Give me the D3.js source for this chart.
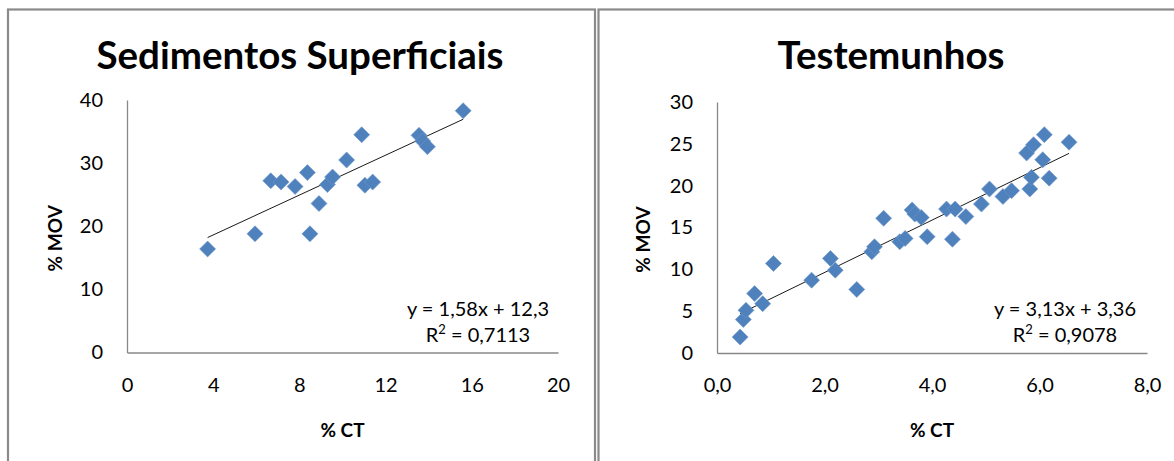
<!DOCTYPE html>
<html>
<head>
<meta charset="utf-8">
<script src="https://cdn.jsdelivr.net/npm/d3@7"></script>
<style>
  html, body { margin: 0; padding: 0; background: #fff; }
  svg { display: block; }
  text { font-family: Lato, "Open Sans", "DejaVu Sans", sans-serif; fill: #000; }
</style>
</head>
<body>
<svg id="chart" width="1174" height="461"></svg>
<script>
// Surface sediments: % CT vs % MOV
const sedCT  = [3.74, 5.94, 6.67, 7.15, 7.80, 8.37, 8.49, 8.91, 9.30, 9.54, 10.19, 10.89, 11.04, 11.40, 13.55, 13.72, 13.94, 15.60];
const sedMOV = [16.4, 18.8, 27.2, 27.0, 26.3, 28.5, 18.8, 23.6, 26.6, 27.8, 30.5, 34.5, 26.5, 27.0, 34.4, 33.5, 32.6, 38.3];

// Cores: % CT vs % MOV
const testCT  = [0.43, 0.49, 0.54, 0.70, 0.85, 1.05, 1.76, 2.11, 2.20, 2.60, 2.88, 2.93, 3.10, 3.40, 3.50, 3.63, 3.68, 3.80, 3.91, 4.27, 4.38, 4.43, 4.63, 4.92, 5.07, 5.32, 5.48, 5.82, 5.85, 6.18, 5.76, 5.89, 6.06, 6.09, 6.55];
const testMOV = [1.9, 4.0, 5.1, 7.1, 5.9, 10.7, 8.7, 11.3, 9.9, 7.6, 12.1, 12.7, 16.1, 13.3, 13.7, 17.1, 16.6, 16.2, 13.9, 17.2, 13.6, 17.2, 16.3, 17.8, 19.6, 18.7, 19.4, 19.6, 21.0, 20.9, 23.9, 24.9, 23.1, 26.1, 25.2];

// Linear trend coefficients (slope, intercept) and R²
const sedFit  = [1.58, 12.3];
const sedR2   = "0,7113";
const testFit = [3.13, 3.36];
const testR2  = "0,9078";

// Axis ticks
const sedXTicks  = [0, 4, 8, 12, 16, 20];
const sedYTicks  = [0, 10, 20, 30, 40];
const testXTicks = [0, 2, 4, 6, 8];
const testYTicks = [0, 5, 10, 15, 20, 25, 30];

const titles = ["Sedimentos Superficiais", "Testemunhos"];
const xTitle = "% CT";
const yTitle = "% MOV";

const svg = d3.select("#chart");
const fmtComma = (d, dec) => d3.format("." + dec + "f")(d).replace(".", ",");

// panel frames
const frame = svg.append("g").attr("fill", "none").attr("stroke", "#8a8a8a").attr("stroke-width", 2.2);
frame.append("rect").attr("x", 8).attr("y", 9.5).attr("width", 587).attr("height", 500);
frame.append("rect").attr("x", 598.5).attr("y", 9.5).attr("width", 620).attr("height", 500);

function panel(cfg) {
  const g = svg.append("g");
  const x = d3.scaleLinear().domain(cfg.xDomain).range(cfg.xRange);
  const y = d3.scaleLinear().domain(cfg.yDomain).range(cfg.yRange);

  // title
  g.append("text")
    .attr("x", cfg.titleX).attr("y", 69)
    .attr("text-anchor", "middle")
    .attr("font-weight", "bold")
    .attr("font-size", 38.5)
    .text(cfg.title);

  // axes
  const yAxis = d3.axisLeft(y).tickValues(cfg.yTicks).tickSize(0).tickPadding(24)
    .tickFormat(d => d3.format("d")(d));
  const xAxis = d3.axisBottom(x).tickValues(cfg.xTicks).tickSize(0).tickPadding(25)
    .tickFormat(cfg.xFormat);

  const gy = g.append("g").attr("transform", `translate(${cfg.xRange[0]},0)`).call(yAxis);
  const gx = g.append("g").attr("transform", `translate(0,${cfg.yRange[0]})`).call(xAxis);
  [gx, gy].forEach(a => {
    a.select(".domain").attr("stroke", "#888").attr("stroke-width", 1.3);
    a.selectAll("text").attr("font-size", 20).attr("fill", "#111")
      .attr("font-family", "Lato, 'Open Sans', sans-serif");
  });

  // axis titles
  g.append("text")
    .attr("x", d3.mean(cfg.xRange)).attr("y", 437)
    .attr("text-anchor", "middle").attr("font-weight", "bold").attr("font-size", 19)
    .text(xTitle);
  g.append("text")
    .attr("transform", `translate(${cfg.yTitleX},${d3.mean(cfg.yRange) + 12}) rotate(-90)`)
    .attr("text-anchor", "middle").attr("font-weight", "bold").attr("font-size", 19)
    .text(yTitle);

  // trend line drawn from the fitted equation over the data range
  const [m, b] = cfg.fit;
  const xs = d3.extent(cfg.xs);
  g.append("line")
    .attr("x1", x(xs[0])).attr("y1", y(m * xs[0] + b))
    .attr("x2", x(xs[1])).attr("y2", y(m * xs[1] + b))
    .attr("stroke", "#1a1a1a").attr("stroke-width", 1);

  // diamond markers
  const r = 8;
  g.append("g").selectAll("path")
    .data(cfg.xs.map((v, i) => [v, cfg.ys[i]]))
    .join("path")
    .attr("transform", d => `translate(${x(d[0])},${y(d[1])})`)
    .attr("d", `M0,${-r}L${r},0L0,${r}L${-r},0Z`)
    .attr("fill", "#4f81bd")
    .attr("stroke", "#6f98cb").attr("stroke-width", 0.6);

  // equation and R²
  const eq = g.append("text").attr("text-anchor", "middle").attr("font-size", 20).attr("fill", "#111");
  eq.append("tspan").attr("x", cfg.eqX).attr("y", 316)
    .text(`y = ${fmtComma(m, 2)}x + ${fmtComma(b, cfg.bDec)}`);
  const r2 = eq.append("tspan").attr("x", cfg.eqX).attr("y", 342);
  r2.append("tspan").text("R");
  r2.append("tspan").attr("font-size", 13).attr("dy", -8).text("2");
  r2.append("tspan").attr("dy", 8).text(" = " + cfg.r2);
}

panel({
  title: titles[0], titleX: 300,
  xs: sedCT, ys: sedMOV, fit: sedFit, r2: sedR2, bDec: 1,
  xDomain: [0, 20], xRange: [127, 558],
  yDomain: [0, 40], yRange: [352.5, 100],
  xTicks: sedXTicks, yTicks: sedYTicks,
  xFormat: d => d3.format("d")(d),
  yTitleX: 62, eqX: 478
});

panel({
  title: titles[1], titleX: 891,
  xs: testCT, ys: testMOV, fit: testFit, r2: testR2, bDec: 2,
  xDomain: [0, 8], xRange: [717, 1147],
  yDomain: [0, 30], yRange: [353, 102],
  xTicks: testXTicks, yTicks: testYTicks,
  xFormat: d => fmtComma(d, 1),
  yTitleX: 650, eqX: 1065
});
</script>
</body>
</html>
